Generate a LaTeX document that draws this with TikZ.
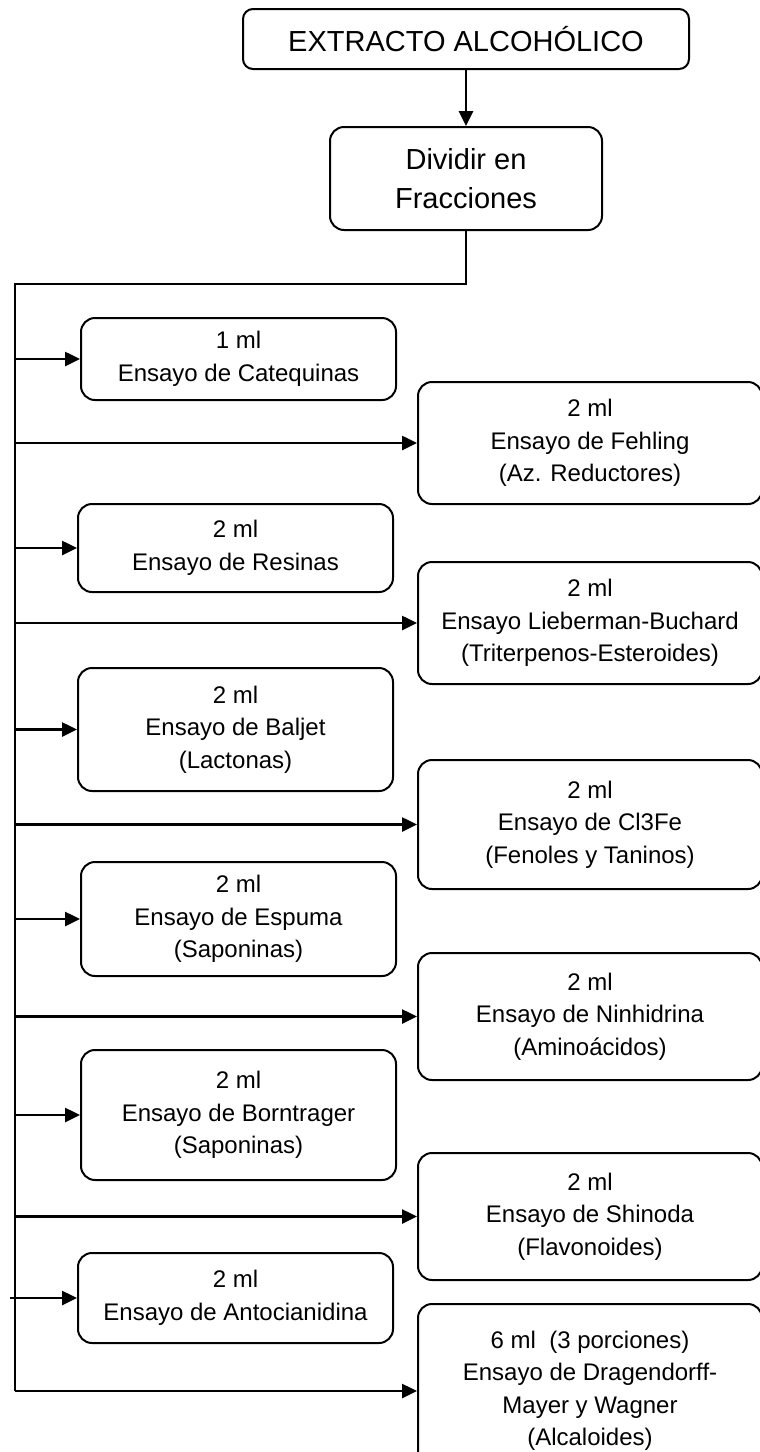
\documentclass[tikz,border=0pt]{standalone}
\usepackage{fontspec}
\setmainfont{Liberation Sans}
\usetikzlibrary{arrows.meta}

\tikzset{every picture/.style={line width=0.75pt}}
\tikzset{
  ensayo/.style={draw, rounded corners=14pt, line width=2pt, align=center, inner sep=0pt,
    font=\fontsize{24}{32.5}\selectfont},
  izq/.style={ensayo, minimum width=315pt},
  der/.style={ensayo, minimum width=344pt},
  flecha/.style={line width=2.6pt, -{Triangle[length=15pt,width=14pt]}},
  linea/.style={line width=2pt}
}

\begin{document}
\begin{tikzpicture}[x=1pt,y=1pt,yscale=-1,xscale=1]
\useasboundingbox (0,0) rectangle (760,1452);

%Shape: Rounded Rect [extracto]
\node (ext) [ensayo, rounded corners=10pt, minimum width=446pt, minimum height=60pt, font=\fontsize{29}{39}\selectfont] at (466,39) {EXTRACTO ALCOHÓLICO};
%Shape: Rounded Rect [dividir]
\node (div) [ensayo, minimum width=272pt, minimum height=103pt, font=\fontsize{29}{39}\selectfont] at (466,178.5) {Dividir en\\Fracciones};

%Left column
\node (cat) [izq, minimum height=82pt] at (238.5,359) {1 ml\\Ensayo de Catequinas};
\node (res) [izq, minimum height=88pt] at (235.5,548) {2 ml\\Ensayo de Resinas};
\node (bal) [izq, minimum height=123pt] at (235.5,729.5) {2 ml\\Ensayo de Baljet\\(Lactonas)};
\node (esp) [izq, minimum height=114pt] at (238.5,919) {2 ml\\Ensayo de Espuma\\(Saponinas)};
\node (bor) [izq, minimum height=130pt] at (238.5,1115) {2 ml\\Ensayo de Borntrager\\(Saponinas)};
\node (ant) [izq, minimum height=90pt] at (235.5,1298) {2 ml\\Ensayo de Antocianidina};

%Right column
\node (feh) [der, minimum height=122pt] at (590,443) {2 ml\\Ensayo de Fehling\\(Az. Reductores)};
\node (lie) [der, minimum height=122pt] at (590,623) {2 ml\\Ensayo Lieberman-Buchard\\(Triterpenos-Esteroides)};
\node (clf) [der, minimum height=129pt] at (590,824.5) {2 ml\\Ensayo de Cl3Fe\\(Fenoles y Taninos)};
\node (nin) [der, minimum height=127pt] at (590,1016.5) {2 ml\\Ensayo de Ninhidrina\\(Aminoácidos)};
\node (shi) [der, minimum height=127pt] at (590,1216.5) {2 ml\\Ensayo de Shinoda\\(Flavonoides)};
\node (dra) [der, minimum height=174pt] at (590,1391) {6 ml\ \ (3 porciones)\\Ensayo de Dragendorff-\\Mayer y Wagner\\(Alcaloides)};

%Connectors
\coordinate (codo) at (15,284);
\coordinate (tronco) at (15,1391);
\draw [flecha] (ext) -- (div);
\draw [linea] (div.south) |- (codo) -- (tronco);

\foreach \n in {cat,feh,res,lie,bal,clf,esp,nin,bor,shi,dra}
  \draw [flecha] (tronco |- \n.west) -- (\n.west);
\draw [flecha] ([xshift=-5pt]tronco |- ant.west) -- (ant.west);

\end{tikzpicture}
\end{document}
